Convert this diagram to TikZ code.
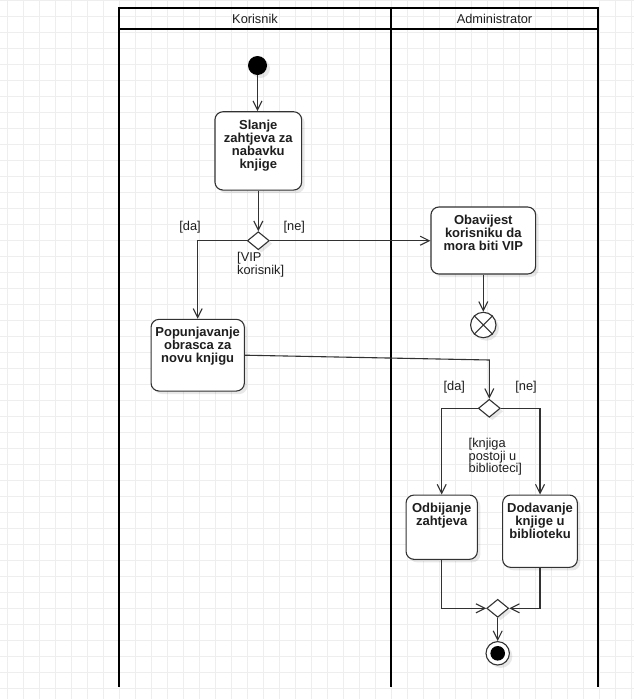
\documentclass[tikz,border=0pt]{standalone}
\usepackage{fontspec}
\setmainfont{Liberation Sans}
\usetikzlibrary{arrows.meta,shadows,shapes.geometric}
\definecolor{umlline}{RGB}{50,50,50}
\definecolor{umltext}{RGB}{30,30,30}
\definecolor{umlgrid}{RGB}{238,238,238}

\tikzset{
  soft shadow/.style={drop shadow={shadow xshift=3pt,shadow yshift=-3pt,fill=black,opacity=0.09}},
  boxtext/.style={anchor=north, yshift=-8.5pt, align=center, inner sep=0pt, text=umltext,
    font=\bfseries\fontsize{13}{13}\selectfont},
  action/.style={draw=umlline, line width=1.1pt, rounded corners=8pt, fill=white, soft shadow,
    inner sep=0pt, label={[boxtext]north:#1}},
  decision/.style={diamond, draw=umlline, line width=1.1pt, fill=white, soft shadow,
    inner sep=0pt, minimum width=22pt, minimum height=18pt},
  guard/.style={inner sep=0pt, align=left, text=umltext, font=\fontsize{12.8}{12.5}\selectfont},
  flow/.style={draw=umlline, line width=1.1pt, -{Straight Barb[length=9pt,width=9pt]}},
  lane/.style={draw=black, line width=2pt},
  gridline/.style={draw=umlgrid, line width=1pt}
}

\begin{document}
\begin{tikzpicture}[x=1pt, y=-1pt]
\useasboundingbox (0,0) rectangle (634,699);
\fill[white] (0,0) rectangle (634,699);

% Background grid
\draw[gridline, xshift=7.7pt, step=16pt] (-7.7,0) grid (626.3,699);

% Swimlanes
\draw[lane] (119,687) -- (119,8) -- (598,8) -- (598,687);
\draw[lane] (119,29) -- (598,29);
\draw[lane] (391,8) -- (391,687);
\node[text=umltext, font=\fontsize{12.8}{13}\selectfont] (korisnik) at (255,18.5) {Korisnik};
\node[text=umltext, font=\fontsize{12.8}{13}\selectfont] (admin) at (494.5,18.5) {Administrator};

% Initial node
\node[circle, fill=black, minimum size=19pt, inner sep=0pt, soft shadow] (start) at (257.5,65.5) {};

% Actions
\node[action={Slanje\\zahtjeva za\\nabavku\\knjige}, minimum width=86.7pt, minimum height=78.3pt] (slanje) at (258.3,150.9) {};
\node[action={Obavijest\\korisniku da\\mora biti VIP}, minimum width=104.7pt, minimum height=67pt] (obavijest) at (483.3,240.5) {};
\node[action={Popunjavanje\\obrasca za\\novu knjigu}, minimum width=93.3pt, minimum height=71.7pt] (popunjavanje) at (197.7,355.2) {};
\node[action={Odbijanje\\zahtjeva}, minimum width=71.3pt, minimum height=64.3pt] (odbijanje) at (441.7,527.2) {};
\node[action={Dodavanje\\knjige u\\biblioteku}, minimum width=74.7pt, minimum height=72.3pt] (dodavanje) at (540,531.2) {};

% Decisions
\node[decision] (vipdec) at (258.3,240.7) {};
\node[decision] (bookdec) at (489.3,408.3) {};
\node[decision] (mergedec) at (497.7,608.3) {};

% Flow end
\node[circle, draw=umlline, line width=1.1pt, fill=white, minimum size=25.4pt, inner sep=0pt, soft shadow] (flowend) at (483.3,325) {};
\draw[umlline, line width=1.1pt] (flowend.north west) -- (flowend.south east)
  (flowend.north east) -- (flowend.south west);

% Activity final
\node[circle, draw=umlline, line width=1.1pt, fill=white, minimum size=23.4pt, inner sep=0pt, soft shadow] (kraj) at (497.7,653.3) {};
\fill[black] (kraj.center) circle (7.3pt);

% Flows
\draw[flow] (start) -- (start |- slanje.north);
\draw[flow] (slanje.south -| vipdec.north) -- (vipdec.north);
\draw[flow] (vipdec.west) -| (popunjavanje.north);
\draw[flow] (vipdec.east) -- (vipdec.east -| obavijest.west);
\draw[flow] (obavijest.south) -- (flowend.north);
\coordinate (popbend) at (489.3,360);
\draw[flow] (popunjavanje.east) -- (popbend) -- (bookdec.north);
\draw[flow] (bookdec.west) -| (odbijanje.north);
\draw[flow] (bookdec.east) -| (dodavanje.north);
\draw[flow] (odbijanje.south) |- (mergedec.west);
\draw[flow] (dodavanje.south) |- (mergedec.east);
\draw[flow] (mergedec.south) -- (kraj.north);

% Guards
\node[guard] (vipda) at (190,226.7) {[da]};
\node[guard] (vipne) at (294.3,226.7) {[ne]};
\node[guard, anchor=north west] (vipuslov) at (237,252.5) {[VIP\\korisnik]};
\node[guard] (bookda) at (454.3,386.7) {[da]};
\node[guard] (bookne) at (526,386.7) {[ne]};
\node[guard, anchor=north west] (bookuslov) at (468.5,438.5) {[knjiga\\postoji u\\biblioteci]};
\end{tikzpicture}
\end{document}
